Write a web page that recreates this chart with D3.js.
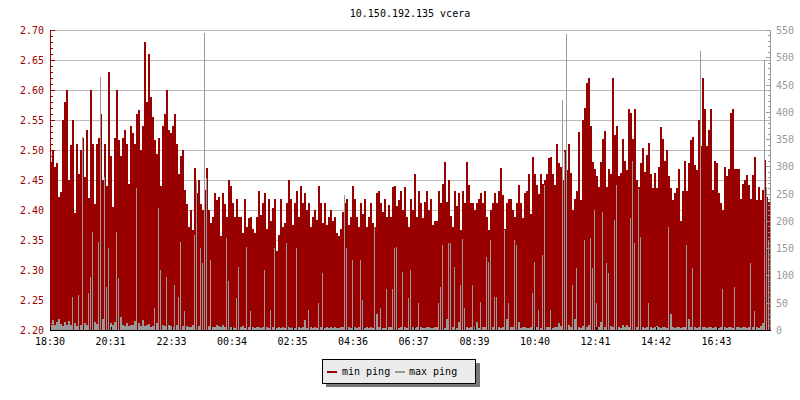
<!DOCTYPE html>
<html>
<head>
<meta charset="utf-8">
<script src="https://cdn.jsdelivr.net/npm/d3@7/dist/d3.min.js"></script>
<style>
html,body{margin:0;padding:0;background:#fff;}
svg{display:block;}
text{font-family:"DejaVu Sans Mono",monospace;font-size:10px;}
</style>
</head>
<body>
<svg id="chart" width="800" height="400"></svg>
<script>
const title = "10.150.192.135 vcera";
const startLabel = "18:30";
const sampleMinutes = 4;
const seriesNames = ["min ping", "max ping"];
const timeTicks = ["18:30","20:31","22:33","00:34","02:35","04:36","06:37","08:39","10:40","12:41","14:42","16:43"];
const leftTicks = [2.20,2.25,2.30,2.35,2.40,2.45,2.50,2.55,2.60,2.65,2.70];
const rightTicks = [0,50,100,150,200,250,300,350,400,450,500,550];

const minPing = [
2.48,2.50,2.472,2.478,2.422,2.43,2.55,2.58,2.60,2.45,
2.508,2.55,2.395,2.51,2.46,2.50,2.52,2.455,2.533,2.42,
2.60,2.51,2.41,2.51,2.52,2.56,2.45,2.51,2.44,2.63,
2.49,2.405,2.52,2.60,2.517,2.49,2.52,2.533,2.51,2.444,
2.54,2.528,2.51,2.56,2.567,2.50,2.54,2.68,2.58,2.66,
2.589,2.555,2.517,2.494,2.52,2.44,2.54,2.56,2.60,2.533,
2.528,2.54,2.56,2.51,2.46,2.49,2.50,2.433,2.41,2.372,
2.40,2.367,2.47,2.428,2.45,2.41,2.40,2.433,2.47,2.40,
2.378,2.389,2.428,2.417,2.422,2.356,2.428,2.41,2.389,2.45,
2.44,2.411,2.389,2.419,2.389,2.389,2.361,2.419,2.372,2.386,
2.389,2.369,2.361,2.389,2.431,2.392,2.411,2.428,2.369,2.419,
2.381,2.403,2.419,2.331,2.358,2.419,2.372,2.378,2.411,2.45,
2.419,2.375,2.411,2.431,2.389,2.44,2.411,2.429,2.40,2.411,
2.372,2.389,2.40,2.383,2.44,2.411,2.378,2.411,2.375,2.389,
2.40,2.381,2.389,2.361,2.356,2.369,2.397,2.411,2.419,2.375,
2.389,2.44,2.419,2.389,2.372,2.411,2.394,2.419,2.372,2.389,
2.411,2.378,2.372,2.428,2.431,2.411,2.397,2.419,2.389,2.408,
2.389,2.439,2.44,2.406,2.417,2.431,2.40,2.439,2.389,2.372,
2.419,2.40,2.46,2.389,2.431,2.411,2.386,2.414,2.431,2.40,
2.419,2.375,2.381,2.381,2.431,2.411,2.444,2.48,2.414,2.45,
2.39,2.372,2.431,2.406,2.429,2.367,2.431,2.411,2.48,2.442,
2.411,2.411,2.40,2.411,2.419,2.428,2.411,2.431,2.389,2.367,
2.40,2.411,2.428,2.411,2.431,2.47,2.425,2.369,2.411,2.419,
2.419,2.40,2.389,2.411,2.441,2.411,2.386,2.428,2.431,2.46,
2.394,2.489,2.46,2.442,2.427,2.46,2.444,2.45,2.46,2.486,
2.489,2.46,2.442,2.51,2.478,2.472,2.45,2.50,2.467,2.51,
2.461,2.40,2.419,2.431,2.53,2.417,2.55,2.57,2.611,2.62,
2.54,2.48,2.469,2.456,2.439,2.48,2.519,2.531,2.439,2.469,
2.46,2.62,2.525,2.54,2.456,2.461,2.519,2.481,2.467,2.569,
2.561,2.519,2.569,2.45,2.439,2.478,2.503,2.464,2.492,2.511,
2.46,2.436,2.461,2.436,2.472,2.539,2.519,2.481,2.50,2.456,
2.436,2.417,2.428,2.436,2.469,2.381,2.431,2.481,2.431,2.478,
2.517,2.521,2.475,2.467,2.55,2.506,2.62,2.569,2.506,2.533,
2.569,2.433,2.481,2.478,2.428,2.411,2.40,2.472,2.456,2.469,
2.561,2.569,2.469,2.469,2.469,2.419,2.444,2.45,2.458,2.442,
2.419,2.458,2.489,2.417,2.439,2.417,2.433,2.483,2.422,2.414
];

const maxPing = [
12,18,9,15,20,11,8,14,10,16,
9,61,13,8,64,10,354,12,9,67,
98,180,14,11,162,464,20,281,79,150,
12,9,15,180,95,24,10,8,13,7,
10,9,16,260,12,8,18,7,9,11,
6,8,40,12,223,110,9,7,98,10,
8,6,82,9,61,162,7,34,8,6,
5,9,174,275,7,150,122,544,278,8,
128,6,5,9,7,6,10,5,168,89,
6,5,4,58,116,5,7,4,153,6,
34,5,4,6,5,3,6,110,5,4,
37,5,150,4,6,3,5,4,159,5,
4,6,3,150,5,4,6,18,4,37,
5,4,6,3,49,5,104,4,5,3,
6,4,5,3,4,6,5,247,150,5,
4,128,6,3,5,128,55,4,5,3,
6,4,189,30,5,40,4,3,76,6,
5,76,150,153,4,5,107,6,4,58,
110,5,4,6,49,5,3,4,6,5,
4,3,5,6,49,79,156,4,20,159,
159,5,116,4,15,82,167,40,5,4,
6,82,5,15,4,52,6,5,134,125,
165,6,61,61,5,4,6,183,20,49,
5,6,165,156,15,4,6,5,4,3,
6,67,125,5,37,4,137,266,6,5,
37,4,6,5,12,8,422,327,543,10,
6,82,20,113,5,4,8,165,6,10,
168,113,220,49,6,15,217,5,122,104,
8,5,202,266,6,4,10,5,10,6,
205,309,159,5,258,171,6,4,5,49,
5,4,6,8,5,4,6,5,4,189,
30,5,4,6,5,4,6,5,156,20,
5,113,6,4,5,512,6,5,4,6,
5,4,6,5,4,6,76,5,4,6,
5,4,79,6,5,4,6,5,4,6,
122,5,34,6,4,8,12,495,263,165
];

const RED = "#990000", GREY = "#999999";
const svg = d3.select("#chart");
const L = 50, R = 770, T = 30, B = 330;

function parseHM(s){ const [h,m] = s.split(":").map(Number); return h*60+m; }
const base = new Date(2024,0,1,0,0);
const startMin = parseHM(startLabel);
function labelToDate(s){ let m = parseHM(s); if (m < startMin) m += 1440; return new Date(base.getTime() + m*60000); }
const t0 = labelToDate(startLabel);
const t1 = new Date(t0.getTime() + 1440*60000);

const x = d3.scaleTime().domain([t0, t1]).range([L, R]);
const yL = d3.scaleLinear().domain([2.20, 2.70]).range([B, T]);
const yR = d3.scaleLinear().domain([0, 550]).range([B, T]);

svg.append("rect").attr("width",800).attr("height",400).attr("fill","#fff");

// title
svg.append("text").attr("x", (L+R)/2).attr("y", 17).attr("text-anchor","middle").attr("fill","#000").text(title);

// grid
svg.append("g").selectAll("line").data(leftTicks.slice(1)).join("line")
  .attr("x1", L).attr("x2", R)
  .attr("y1", d => Math.round(yL(d))+0.5).attr("y2", d => Math.round(yL(d))+0.5)
  .attr("stroke","#bbbbbb").attr("stroke-width",1);

const tOf = i => new Date(t0.getTime() + i*sampleMinutes*60000);

// min ping bars
svg.append("g").attr("shape-rendering","crispEdges").selectAll("rect").data(minPing).join("rect")
  .attr("x", (d,i) => x(tOf(i)))
  .attr("width", (d,i) => x(tOf(i+1)) - x(tOf(i)))
  .attr("y", d => Math.round(yL(d)))
  .attr("height", d => B - Math.round(yL(d)))
  .attr("fill", RED);

// max ping bars
svg.append("g").attr("shape-rendering","crispEdges").selectAll("rect").data(maxPing).join("rect")
  .attr("x", (d,i) => x(tOf(i)))
  .attr("width", (d,i) => Math.max(1, (x(tOf(i+1)) - x(tOf(i))) * (d > 30 ? 0.5 : 1)))
  .attr("y", d => Math.round(yR(d)))
  .attr("height", d => B - Math.round(yR(d)))
  .attr("fill", GREY);

// left axis
const gl = svg.append("g").attr("shape-rendering","crispEdges");
gl.append("line").attr("x1",L+0.5).attr("x2",L+0.5).attr("y1",T).attr("y2",B).attr("stroke",RED);
const leftMinor = d3.range(0, 51).map(i => 2.20 + i*0.01);
gl.selectAll(".mt").data(leftMinor).join("line")
  .attr("x1", L).attr("x2", (d,i) => i%5===0 ? L+5 : L+3)
  .attr("y1", d => Math.round(yL(d))+0.5).attr("y2", d => Math.round(yL(d))+0.5)
  .attr("stroke", RED);
gl.selectAll("text").data(leftTicks).join("text")
  .attr("x", 44).attr("y", d => yL(d)+4)
  .attr("text-anchor","end").attr("fill",RED)
  .text(d => d.toFixed(2));

// right axis
const gr = svg.append("g").attr("shape-rendering","crispEdges");
gr.append("line").attr("x1",R+0.5).attr("x2",R+0.5).attr("y1",T).attr("y2",B).attr("stroke",GREY);
const rightMinor = d3.range(0, 56).map(i => i*10);
gr.selectAll(".mt").data(rightMinor).join("line")
  .attr("x1", R+1).attr("x2", (d,i) => i%5===0 ? R-4 : R-2)
  .attr("y1", d => Math.round(yR(d))+0.5).attr("y2", d => Math.round(yR(d))+0.5)
  .attr("stroke", GREY);
gr.selectAll("text").data(rightTicks).join("text")
  .attr("x", 776).attr("y", d => yR(d)+4)
  .attr("text-anchor","start").attr("fill",GREY)
  .text(d => d);

// bottom axis
const gb = svg.append("g").attr("shape-rendering","crispEdges");
gb.append("line").attr("x1",L).attr("x2",R+1).attr("y1",B+0.5).attr("y2",B+0.5).attr("stroke","#000");
gb.selectAll(".tk").data(timeTicks).join("line")
  .attr("x1", d => Math.round(x(labelToDate(d)))+0.5).attr("x2", d => Math.round(x(labelToDate(d)))+0.5)
  .attr("y1", B-3).attr("y2", B).attr("stroke","#000");
gb.selectAll("text").data(timeTicks).join("text")
  .attr("x", d => x(labelToDate(d))).attr("y", 345)
  .attr("text-anchor","middle").attr("fill","#000")
  .text(d => d);

// legend
const lg = svg.append("g").attr("shape-rendering","crispEdges");
lg.append("rect").attr("x",326).attr("y",363).attr("width",154).attr("height",24).attr("fill","#777");
lg.append("rect").attr("x",322.5).attr("y",359.5).attr("width",153).attr("height",24).attr("fill","#ebebeb").attr("stroke","#000");
lg.append("rect").attr("x",327).attr("y",371).attr("width",10).attr("height",2).attr("fill",RED);
lg.append("text").attr("x",342).attr("y",375).attr("fill","#000").text(seriesNames[0]);
lg.append("rect").attr("x",395).attr("y",371).attr("width",10).attr("height",2).attr("fill",GREY);
lg.append("text").attr("x",409).attr("y",375).attr("fill","#000").text(seriesNames[1]);
</script>
</body>
</html>
